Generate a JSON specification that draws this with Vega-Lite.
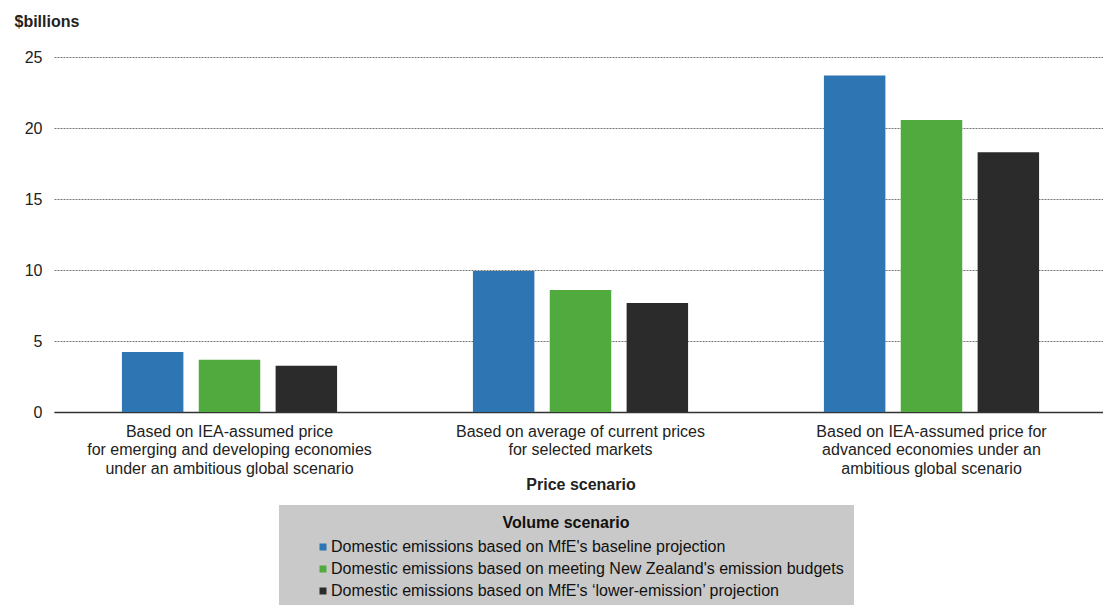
{
  "$schema": "https://vega.github.io/schema/vega-lite/v6.json",
  "width": 1053,
  "height": 355,
  "autosize": {"type": "none"},
  "padding": {"left": 54, "top": 57, "right": 0, "bottom": 193},
  "background": "white",
  "config": {
    "font": "Liberation Sans",
    "view": {"stroke": null}
  },
  "data": {
    "values": [
      {"price": "Based on IEA-assumed price|for emerging and developing economies|under an ambitious global scenario", "volume": "Domestic emissions based on MfE's baseline projection", "value": 4.23},
      {"price": "Based on IEA-assumed price|for emerging and developing economies|under an ambitious global scenario", "volume": "Domestic emissions based on meeting New Zealand's emission budgets", "value": 3.68},
      {"price": "Based on IEA-assumed price|for emerging and developing economies|under an ambitious global scenario", "volume": "Domestic emissions based on MfE's ‘lower-emission’ projection", "value": 3.25},
      {"price": "Based on average of current prices|for selected markets", "volume": "Domestic emissions based on MfE's baseline projection", "value": 9.93},
      {"price": "Based on average of current prices|for selected markets", "volume": "Domestic emissions based on meeting New Zealand's emission budgets", "value": 8.6},
      {"price": "Based on average of current prices|for selected markets", "volume": "Domestic emissions based on MfE's ‘lower-emission’ projection", "value": 7.68},
      {"price": "Based on IEA-assumed price for|advanced economies under an|ambitious global scenario", "volume": "Domestic emissions based on MfE's baseline projection", "value": 23.7},
      {"price": "Based on IEA-assumed price for|advanced economies under an|ambitious global scenario", "volume": "Domestic emissions based on meeting New Zealand's emission budgets", "value": 20.56},
      {"price": "Based on IEA-assumed price for|advanced economies under an|ambitious global scenario", "volume": "Domestic emissions based on MfE's ‘lower-emission’ projection", "value": 18.3}
    ]
  },
  "mark": {"type": "bar"},
  "encoding": {
    "x": {
      "field": "price",
      "type": "nominal",
      "sort": null,
      "scale": {"paddingInner": 0.387, "paddingOuter": 0.1935},
      "axis": {
        "title": "Price scenario",
        "titleFont": "Liberation Sans",
        "titleFontSize": 16,
        "titleFontWeight": "bold",
        "titleColor": "#222222",
        "titlePadding": 0,
        "labelExpr": "split(datum.label, '|')",
        "labelAngle": 0,
        "labelFontSize": 16,
        "labelLineHeight": 18.5,
        "labelColor": "#222222",
        "labelPadding": 11,
        "labelLimit": 400,
        "ticks": false,
        "domainColor": "#333333",
        "domainWidth": 1.5
      }
    },
    "xOffset": {
      "field": "volume",
      "type": "nominal",
      "sort": null,
      "scale": {"paddingInner": 0.2, "paddingOuter": 0}
    },
    "y": {
      "field": "value",
      "type": "quantitative",
      "scale": {"domain": [0, 25]},
      "axis": {
        "values": [0, 5, 10, 15, 20, 25],
        "title": "$billions",
        "titleAngle": 0,
        "titleAlign": "left",
        "titleBaseline": "alphabetic",
        "titleX": -40,
        "titleY": -31,
        "titleFontSize": 16,
        "titleFontWeight": "bold",
        "titleColor": "#222222",
        "labelFontSize": 16,
        "labelColor": "#222222",
        "labelPadding": 12,
        "ticks": false,
        "domain": false,
        "gridColor": "#777777",
        "gridDash": [2, 1],
        "gridWidth": 1
      }
    },
    "color": {
      "field": "volume",
      "type": "nominal",
      "sort": null,
      "scale": {"range": ["#2d76b3", "#51aa3e", "#2b2b2b"]},
      "legend": {
        "title": "Volume scenario",
        "orient": "none",
        "legendX": 225,
        "legendY": 448,
        "titleAnchor": "middle",
        "titleFontSize": 16,
        "titleFontWeight": "bold",
        "titleColor": "#111111",
        "titlePadding": 8,
        "labelFontSize": 16,
        "labelColor": "#111111",
        "labelLimit": 700,
        "labelOffset": 0,
        "symbolType": "square",
        "symbolSize": 49,
        "symbolStrokeWidth": 0,
        "symbolOffset": 26,
        "rowPadding": 6,
        "fillColor": "#c9c9c9",
        "padding": 10
      }
    }
  }
}
